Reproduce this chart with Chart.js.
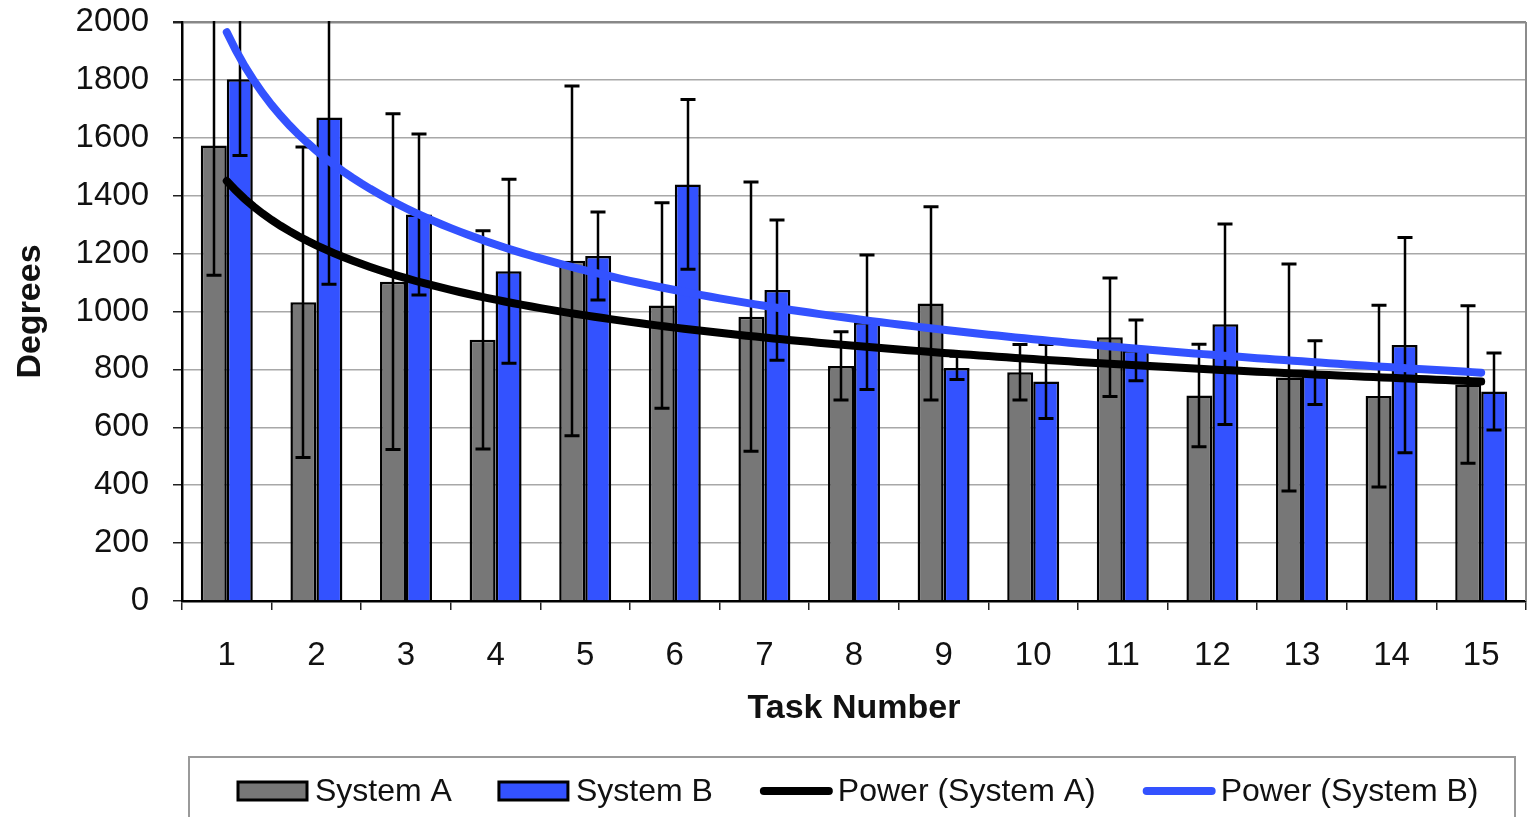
<!DOCTYPE html>
<html>
<head>
<meta charset="utf-8">
<title>Task Number vs Degrees</title>
<script src="https://cdn.jsdelivr.net/npm/chart.js@4/dist/chart.umd.min.js"></script>
<style>
  html, body { margin: 0; padding: 0; background: #fff; }
  #wrap { width: 1528px; height: 817px; }
</style>
</head>
<body>
<div id="wrap"><canvas id="chart" width="1528" height="817"></canvas></div>
<script>
// Task categories along the x axis
const tasks = ['1','2','3','4','5','6','7','8','9','10','11','12','13','14','15'];

// Mean degrees per task
const systemA = [1573, 1032, 1103, 902, 1175, 1021, 982, 812, 1028, 790, 911, 710, 772, 708, 748];
const systemB = [1802, 1670, 1335, 1139, 1192, 1439, 1074, 963, 805, 758, 866, 956, 789, 884, 724];

// Error bar half-lengths (±)
const errA = [448, 536, 580, 377, 604, 355, 465, 118, 334, 96, 205, 177, 392, 314, 272];
const errB = [263, 576, 278, 318, 152, 293, 242, 232, 40, 128, 105, 346, 110, 372, 133];

const seriesLabels = ['System A', 'System B', 'Power (System A)', 'Power (System B)'];

// Least-squares power fit y = a * x^b in log-log space (task number x = 1..n)
function powerFit(values) {
  const n = values.length;
  const lx = values.map((_, i) => Math.log(i + 1));
  const ly = values.map(v => Math.log(v));
  const mx = lx.reduce((s, v) => s + v, 0) / n;
  const my = ly.reduce((s, v) => s + v, 0) / n;
  let sxy = 0, sxx = 0;
  for (let i = 0; i < n; i++) {
    sxy += (lx[i] - mx) * (ly[i] - my);
    sxx += (lx[i] - mx) * (lx[i] - mx);
  }
  const b = sxy / sxx;
  return { a: Math.exp(my - b * mx), b };
}

// Fitted trendline traced from the first to the last task; x is the
// category index (task - 1), so the curve shares the bars' x scale
function trendCurve(values) {
  const { a, b } = powerFit(values);
  const pts = [];
  for (let k = 0; k <= (values.length - 1) * 10; k++) {
    const task = 1 + k / 10;
    pts.push({ x: task - 1, y: a * Math.pow(task, b) });
  }
  return pts;
}

const FONT = "'Liberation Sans', Arial, sans-serif";
const GRAY = '#777777';
const BLUE = '#3352ff';

// White page background
const background = {
  id: 'background',
  beforeDraw(chart) {
    const ctx = chart.ctx;
    ctx.save();
    ctx.fillStyle = '#fff';
    ctx.fillRect(0, 0, chart.width, chart.height);
    ctx.restore();
  }
};

// Right-hand border of the plot area
const plotFrame = {
  id: 'plotFrame',
  beforeDatasetsDraw(chart) {
    const { ctx, chartArea: a } = chart;
    ctx.save();
    ctx.strokeStyle = '#8c8c8c';
    ctx.lineWidth = 2;
    ctx.beginPath();
    ctx.moveTo(a.right, a.top);
    ctx.lineTo(a.right, a.bottom);
    ctx.stroke();
    ctx.restore();
  }
};

// Vertical ± error bars drawn right after each bar dataset
const errorBars = {
  id: 'errorBars',
  afterDatasetDraw(chart, args) {
    const ds = chart.data.datasets[args.index];
    if (!ds.errors) return;
    const { ctx, chartArea: a } = chart;
    const y = chart.scales.y;
    ctx.save();
    ctx.beginPath();
    ctx.rect(a.left, a.top - 1, a.right - a.left, a.bottom - a.top + 2);
    ctx.clip();
    ctx.strokeStyle = '#000';
    args.meta.data.forEach((bar, i) => {
      const v = ds.data[i], e = ds.errors[i];
      const x = Math.round(bar.x);
      const yt = y.getPixelForValue(v + e);
      const yb = y.getPixelForValue(v - e);
      ctx.lineWidth = 2.5;
      ctx.beginPath();
      ctx.moveTo(x, yt);
      ctx.lineTo(x, yb);
      ctx.stroke();
      ctx.lineWidth = 3;
      ctx.beginPath();
      ctx.moveTo(x - 7.5, yt); ctx.lineTo(x + 7.5, yt);
      ctx.moveTo(x - 7.5, yb); ctx.lineTo(x + 7.5, yb);
      ctx.stroke();
    });
    ctx.restore();
  }
};

// Boxed legend along the bottom edge
const boxLegend = {
  id: 'boxLegend',
  afterDraw(chart) {
    const ctx = chart.ctx;
    ctx.save();
    ctx.strokeStyle = '#9a9a9a';
    ctx.lineWidth = 2;
    ctx.strokeRect(189, 757, 1326, 90);
    ctx.font = '32px ' + FONT;
    ctx.textBaseline = 'middle';
    ctx.fillStyle = '#111';
    const cy = 791;
    let x = 238;
    chart.data.datasets.forEach(ds => {
      if (ds.type === 'line') {
        ctx.strokeStyle = ds.borderColor;
        ctx.lineWidth = 8;
        ctx.lineCap = 'round';
        ctx.beginPath();
        ctx.moveTo(x + 4, cy);
        ctx.lineTo(x + 69, cy);
        ctx.stroke();
        x += 78;
      } else {
        ctx.fillStyle = ds.backgroundColor;
        ctx.fillRect(x, cy - 9, 69, 18);
        ctx.strokeStyle = '#000';
        ctx.lineWidth = 3;
        ctx.strokeRect(x, cy - 9, 69, 18);
        x += 77;
      }
      ctx.fillStyle = '#111';
      ctx.fillText(ds.label, x, cy + 1);
      x += ctx.measureText(ds.label).width + 47;
    });
    ctx.restore();
  }
};

const chart = new Chart(document.getElementById('chart'), {
  type: 'bar',
  data: {
    labels: tasks,
    datasets: [
      {
        label: seriesLabels[0], data: systemA, errors: errA,
        backgroundColor: GRAY, borderColor: '#000', borderWidth: 2.5,
        categoryPercentage: 0.58, barPercentage: 1.0, order: 2
      },
      {
        label: seriesLabels[1], data: systemB, errors: errB,
        backgroundColor: BLUE, borderColor: '#000', borderWidth: 2.5,
        categoryPercentage: 0.58, barPercentage: 1.0, order: 2
      },
      {
        type: 'line', label: seriesLabels[2], data: trendCurve(systemA), parsing: false,
        borderColor: '#000', borderWidth: 8, pointRadius: 0,
        borderCapStyle: 'round', order: 1
      },
      {
        type: 'line', label: seriesLabels[3], data: trendCurve(systemB), parsing: false,
        borderColor: BLUE, borderWidth: 8, pointRadius: 0,
        borderCapStyle: 'round', order: 1
      }
    ]
  },
  options: {
    responsive: false,
    devicePixelRatio: 1,
    animation: false,
    layout: { padding: { left: 0, top: 1, right: 2, bottom: 86 } },
    plugins: {
      legend: { display: false },
      tooltip: { enabled: false }
    },
    scales: {
      x: {
        offset: true,
        grid: {
          offset: true, drawOnChartArea: false,
          tickLength: 9, tickColor: '#222', lineWidth: 1.5
        },
        border: { color: '#000', width: 2.5 },
        ticks: { color: '#111', font: { family: FONT, size: 33 }, padding: 26 },
        title: {
          display: true, text: 'Task Number', color: '#111',
          font: { family: FONT, size: 34, weight: 'bold' },
          padding: { top: 0, bottom: 2 }
        },
        afterFit(scale) { scale.height = 130; }
      },
      y: {
        min: 0, max: 2000,
        ticks: {
          stepSize: 200, color: '#111', font: { family: FONT, size: 33 }, padding: 24,
          callback: v => String(v)
        },
        grid: {
          color: ctx => (ctx.tick && ctx.tick.value === 2000) ? '#888' : '#a8a8a8',
          lineWidth: ctx => (ctx.tick && ctx.tick.value === 2000) ? 2.5 : 1.5,
          tickLength: 9, tickColor: '#222'
        },
        border: { color: '#000', width: 2.5 },
        title: {
          display: true, text: 'Degrees', color: '#111',
          font: { family: FONT, size: 34, weight: 'bold' },
          padding: { top: 10, bottom: 0 }
        },
        afterFit(scale) {
          scale.width = 182;
          scale.paddingTop = 22;
          scale.paddingBottom = 0;
        }
      }
    }
  },
  plugins: [background, plotFrame, errorBars, boxLegend]
});
</script>
</body>
</html>
